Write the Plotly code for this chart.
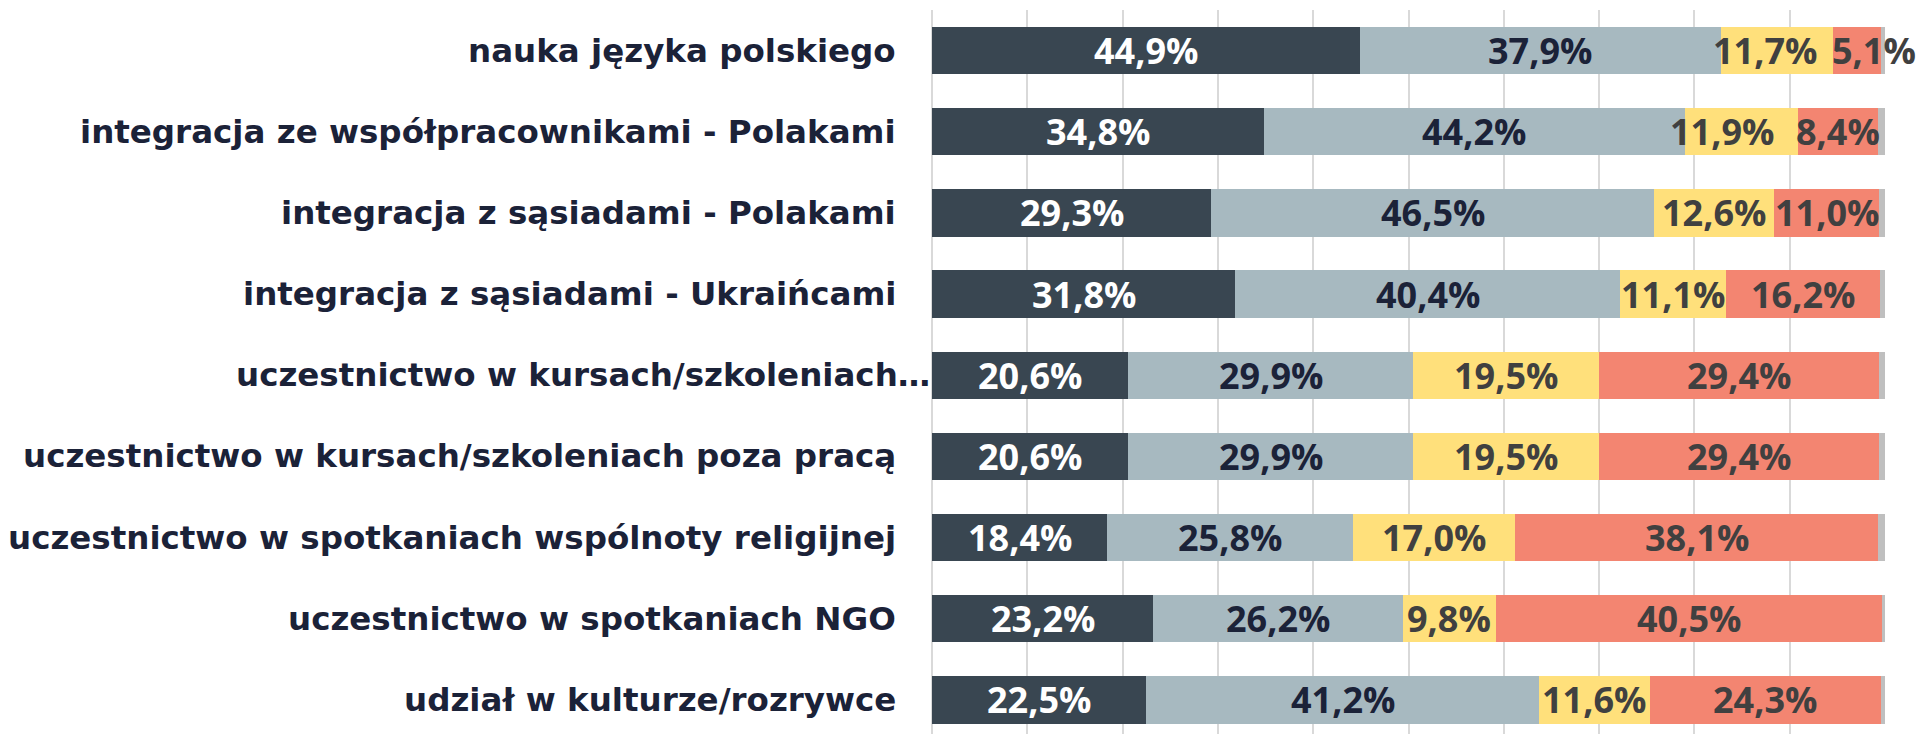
import plotly.graph_objects as go

categories = [
    "nauka języka polskiego",
    "integracja ze współpracownikami - Polakami",
    "integracja z sąsiadami - Polakami",
    "integracja z sąsiadami - Ukraińcami",
    "uczestnictwo w kursach/szkoleniach…",
    "uczestnictwo w kursach/szkoleniach poza pracą",
    "uczestnictwo w spotkaniach wspólnoty religijnej",
    "uczestnictwo w spotkaniach NGO",
    "udział w kulturze/rozrywce",
]
s1 = [44.9, 34.8, 29.3, 31.8, 20.6, 20.6, 18.4, 23.2, 22.5]
s2 = [37.9, 44.2, 46.5, 40.4, 29.9, 29.9, 25.8, 26.2, 41.2]
s3 = [11.7, 11.9, 12.6, 11.1, 19.5, 19.5, 17.0, 9.8, 11.6]
s4 = [5.1, 8.4, 11.0, 16.2, 29.4, 29.4, 38.1, 40.5, 24.3]
s5 = [round(100 - a - b - c - d, 1) for a, b, c, d in zip(s1, s2, s3, s4)]

series = [
    (s1, "#394651", "#FFFFFF", True),
    (s2, "#A7B9C0", "#1B2238", True),
    (s3, "#FFE07B", "#404040", True),
    (s4, "#F38571", "#404040", True),
    (s5, "#BFBFBF", "#404040", False),
]

# pixel nudges of a few value labels (row, series) as in the original layout
label_nudge = {(0, 2): -12, (0, 3): 17, (1, 2): -20}

def fmt(v):
    return f"{v:.1f}".replace(".", ",") + "%"

ypos = list(range(len(categories)))

fig = go.Figure()
for vals, col, tcol, show in series:
    fig.add_trace(go.Bar(
        x=vals, y=ypos, orientation="h",
        marker=dict(color=col, line=dict(width=0)),
        hoverinfo="skip",
        showlegend=False,
    ))

# value labels
cum = [0.0] * len(categories)
for si, (vals, col, tcol, show) in enumerate(series):
    for i, v in enumerate(vals):
        if show:
            fig.add_annotation(
                x=cum[i] + v / 2, xref="x", y=i, yref="y",
                text=fmt(v), showarrow=False,
                xanchor="center", yanchor="middle",
                xshift=label_nudge.get((i, si), 0),
                font=dict(family="Open Sans", size=36, color=tcol, weight=700),
            )
        cum[i] += v

# category labels
for i, c in enumerate(categories):
    trunc = c.endswith("…")
    fig.add_annotation(
        x=0, xref="x", y=i, yref="y",
        text=c, showarrow=False,
        xanchor="right", yanchor="middle",
        xshift=0 if trunc else -34,
        font=dict(family="DejaVu Sans", size=32.5, color="#1B2238", weight=700),
    )

fig.update_layout(
    barmode="stack",
    bargap=0.415,
    width=1921, height=734,
    margin=dict(l=932, r=36, t=10, b=0),
    plot_bgcolor="white",
    paper_bgcolor="white",
    xaxis=dict(range=[0, 100], dtick=10, showgrid=True, gridcolor="#D9D9D9",
               gridwidth=1.5, zeroline=True, zerolinecolor="#D9D9D9",
               zerolinewidth=1.5, showticklabels=False, ticks="", fixedrange=True),
    yaxis=dict(range=[8.42, -0.5], showticklabels=False, showgrid=False,
               zeroline=False, ticks="", fixedrange=True),
)

fig.write_html(
    "out.html",
    config={"displayModeBar": False},
    post_script="document.body.style.margin='0';document.body.style.overflow='hidden';",
)
